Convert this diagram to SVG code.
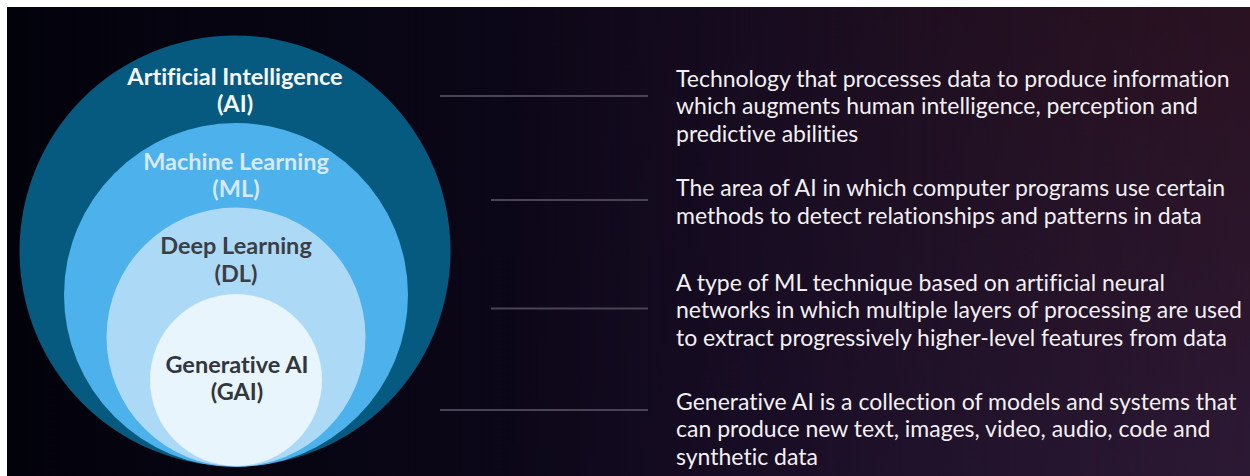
<svg xmlns="http://www.w3.org/2000/svg" width="1250" height="476" viewBox="0 0 1250 476">
  <defs>
    <linearGradient id="bg" x1="0" y1="0" x2="1" y2="0">
      <stop offset="0" stop-color="#02020b"/>
      <stop offset="0.35" stop-color="#0a0616"/>
      <stop offset="0.6" stop-color="#140b20"/>
      <stop offset="1" stop-color="#2a1628"/>
    </linearGradient>
    <linearGradient id="tint" x1="0" y1="0" x2="0" y2="1">
      <stop offset="0" stop-color="#2a0f1a"/>
      <stop offset="1" stop-color="#2e1c42"/>
    </linearGradient>
    <linearGradient id="fadeIn" x1="0" y1="0" x2="1" y2="0">
      <stop offset="0.4" stop-color="#000"/>
      <stop offset="1" stop-color="#777"/>
    </linearGradient>
    <mask id="rightSide" maskUnits="userSpaceOnUse" x="0" y="0" width="1250" height="476">
      <rect width="1250" height="476" fill="url(#fadeIn)"/>
    </mask>
    <style>
      .lbl { font-family: Lato, "Open Sans", sans-serif; font-weight: 700; font-size: 23.5px; text-anchor: middle; font-variant-ligatures: none; }
      .desc { font-family: Lato, "Open Sans", sans-serif; font-size: 23px; fill: #f2f0f2; font-variant-ligatures: none; }
      .conn { stroke: #4a4356; stroke-width: 2; fill: none; }
    </style>
  </defs>

  <!-- page margin and backdrop -->
  <rect width="1250" height="476" fill="#ffffff"/>
  <rect x="7" y="7" width="1243" height="469" fill="url(#bg)"/>
  <rect x="7" y="7" width="1243" height="469" fill="url(#tint)" mask="url(#rightSide)"/>

  <!-- nested domains -->
  <g id="ai">
    <circle cx="235" cy="251" r="215.5" fill="#075a7f"/>
    <text class="lbl" x="235" y="85" fill="#f4f8fb">Artificial Intelligence</text>
    <text class="lbl" x="235" y="112" fill="#f4f8fb">(AI)</text>
  </g>
  <g id="ml">
    <circle cx="236" cy="295" r="172" fill="#4db1eb"/>
    <text class="lbl" x="236" y="170" fill="#d6e9f5">Machine Learning</text>
    <text class="lbl" x="236" y="197" fill="#d6e9f5">(ML)</text>
  </g>
  <g id="dl">
    <circle cx="236" cy="337" r="129.5" fill="#acdaf6"/>
    <text class="lbl" x="236" y="254" fill="#3c3e44">Deep Learning</text>
    <text class="lbl" x="236" y="282" fill="#3c3e44">(DL)</text>
  </g>
  <g id="gai">
    <circle cx="236" cy="380" r="86" fill="#e8f5fd"/>
    <text class="lbl" x="237" y="373" fill="#33363c">Generative AI</text>
    <text class="lbl" x="237" y="400" fill="#33363c">(GAI)</text>
  </g>

  <!-- leader lines -->
  <g id="connectors">
    <line class="conn" x1="440" y1="96" x2="648" y2="96"/>
    <line class="conn" x1="491" y1="200" x2="648" y2="200"/>
    <line class="conn" x1="491" y1="308.5" x2="648" y2="308.5"/>
    <line class="conn" x1="440" y1="410" x2="648" y2="410"/>
  </g>

  <!-- definitions -->
  <g id="desc-ai">
    <text class="desc" x="676" y="87">Technology that processes data to produce information</text>
    <text class="desc" x="676" y="114">which augments human intelligence, perception and</text>
    <text class="desc" x="676" y="142">predictive abilities</text>
  </g>
  <g id="desc-ml">
    <text class="desc" x="676" y="196">The area of AI in which computer programs use certain</text>
    <text class="desc" x="676" y="224">methods to detect relationships and patterns in data</text>
  </g>
  <g id="desc-dl">
    <text class="desc" x="676" y="291">A type of ML technique based on artificial neural</text>
    <text class="desc" x="676" y="318">networks in which multiple layers of processing are used</text>
    <text class="desc" x="676" y="346">to extract progressively higher-level features from data</text>
  </g>
  <g id="desc-gai">
    <text class="desc" x="676" y="410">Generative AI is a collection of models and systems that</text>
    <text class="desc" x="676" y="437">can produce new text, images, video, audio, code and</text>
    <text class="desc" x="676" y="465">synthetic data</text>
  </g>
</svg>
